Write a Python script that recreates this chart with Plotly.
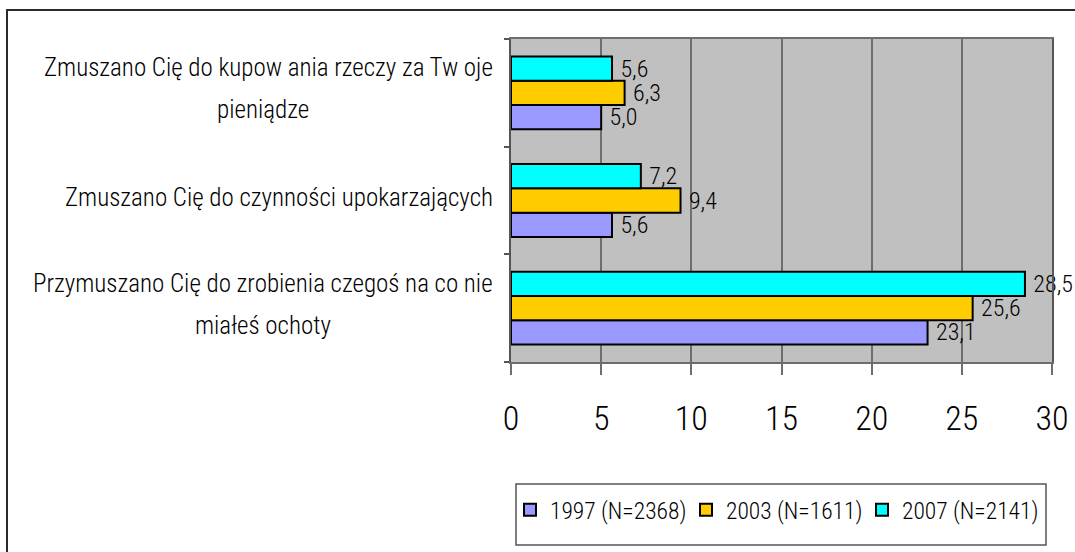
import plotly.graph_objects as go

# Survey answers, bottom to top on the chart
categories = [
    ["Przymuszano Cię do zrobienia czegoś na co nie", "miałeś ochoty"],
    ["Zmuszano Cię do czynności upokarzających"],
    ["Zmuszano Cię do kupow ania rzeczy za Tw oje", "pieniądze"],
]
series_names = ["1997 (N=2368)", "2003 (N=1611)", "2007 (N=2141)"]
values_1997 = [23.1, 5.6, 5.0]
values_2003 = [25.6, 9.4, 6.3]
values_2007 = [28.5, 7.2, 5.6]
x_ticks = [0, 5, 10, 15, 20, 25, 30]

colors = ["#9999FF", "#FFCC00", "#00FFFF"]
FONT = "Roboto Condensed, Liberation Sans Narrow, Liberation Sans, Arial, sans-serif"
WEIGHT = 300

W, H = 1075, 552
L, R, T, B = 511, 23, 39, 190
pw, ph = W - L - R, H - T - B


def px_x(p):
    return (p - L) / pw


def px_y(p):
    return (H - B - p) / ph


def fmt(v):
    return "\u00a0" + f"{v:.1f}".replace(".", ",")


def font(size):
    return dict(family=FONT, size=size, color="#000000", weight=WEIGHT)


ypos = list(range(len(categories)))

fig = go.Figure()
for name, vals, col in zip(series_names, [values_1997, values_2003, values_2007], colors):
    fig.add_trace(go.Bar(
        name=name, x=vals, y=ypos, orientation="h",
        marker=dict(color=col, line=dict(color="#000000", width=2)),
        text=[fmt(v) for v in vals], textposition="outside",
        textfont=font(24),
        constraintext="none", cliponaxis=False,
    ))

# Category labels, drawn line by line to the left of the plot
LABEL_SIZE = 25
annotations = []
for i, lines in enumerate(categories):
    if len(lines) == 1:
        annotations.append(dict(
            text=lines[0], xref="paper", yref="y", x=px_x(495), y=i,
            xanchor="right", yanchor="middle", showarrow=False, yshift=3,
            font=font(LABEL_SIZE)))
    else:
        annotations.append(dict(
            text=lines[0], xref="paper", yref="y", x=px_x(495), y=i,
            xanchor="right", yanchor="middle", showarrow=False, yshift=25,
            font=font(LABEL_SIZE)))
        annotations.append(dict(
            text=lines[1], xref="paper", yref="y", x=px_x(263), y=i,
            xanchor="center", yanchor="middle", showarrow=False, yshift=-17,
            font=font(LABEL_SIZE)))

shapes = [
    # outer chart frame
    dict(type="rect", xref="paper", yref="paper",
         x0=px_x(7), x1=px_x(1085), y0=px_y(570), y1=px_y(10),
         line=dict(color="#2b2b2b", width=2), layer="below"),
    # legend box
    dict(type="rect", xref="paper", yref="paper",
         x0=px_x(516), x1=px_x(1046), y0=px_y(545), y1=px_y(484),
         line=dict(color="#555555", width=1.5), fillcolor="#FFFFFF", layer="below"),
]

fig.update_layout(
    width=W, height=H, autosize=False,
    margin=dict(l=L, r=R, t=T, b=B, pad=0),
    paper_bgcolor="#FFFFFF", plot_bgcolor="#C0C0C0",
    barmode="group", bargap=0.324, bargroupgap=0,
    font=dict(family=FONT, color="#000000"),
    showlegend=True,
    legend=dict(
        orientation="h", xref="container", yref="container",
        x=510 / W, y=1 - 510 / H, xanchor="left", yanchor="middle",
        font=font(23.5),
        bgcolor="rgba(0,0,0,0)", borderwidth=0,
        entrywidth=131, entrywidthmode="pixels",
    ),
    annotations=annotations,
    shapes=shapes,
)

fig.update_xaxes(
    range=[0, 30], tickmode="array", tickvals=x_ticks,
    ticktext=[str(t) for t in x_ticks],
    showgrid=True, gridcolor="#6e6e6e", gridwidth=1.5,
    zeroline=False, showline=True, linecolor="#6e6e6e", linewidth=2, mirror=True,
    ticks="outside", ticklen=11, tickwidth=1.5, tickcolor="#6e6e6e",
    tickfont=font(34),
    ticklabelstandoff=14, automargin=False,
)
fig.update_yaxes(
    range=[-0.5, 2.5], tickmode="array", tickvals=[-0.5, 0.5, 1.5, 2.5],
    ticktext=["", "", "", ""], showgrid=False, zeroline=False,
    showline=True, linecolor="#555555", linewidth=2, mirror=True,
    ticks="outside", ticklen=5, tickwidth=1.5, tickcolor="#555555",
    automargin=False,
)

fig.write_html("out.html")
